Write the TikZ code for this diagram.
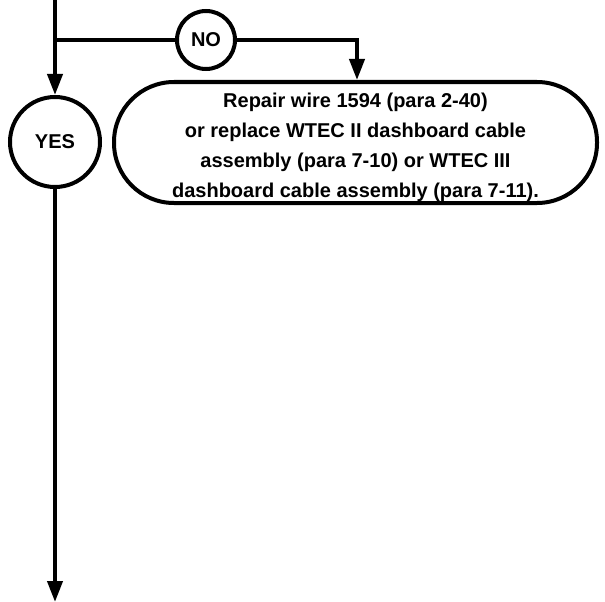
\documentclass[tikz,border=0pt]{standalone}
\usepackage{fontspec}
\setmainfont{Liberation Sans}
\usetikzlibrary{arrows.meta}
\begin{document}
\begin{tikzpicture}[x=1pt,y=-1pt,
  conn/.style={line width=4pt,-{Triangle[length=21pt,width=15pt]}},
  plain/.style={line width=4pt},
  answer/.style={circle,draw,line width=4pt,font=\bfseries\fontsize{20}{24}\selectfont,inner sep=0pt},
  actionbox/.style={draw,line width=4pt,rounded corners=60pt,minimum width=483pt,minimum height=121pt,inner sep=0pt}]
\useasboundingbox (0,0) rectangle (605,602);
\coordinate (top) at (55,0);
\coordinate (split) at (55,40);
\coordinate (bottom) at (55,602);
\node[answer,minimum size=58pt] (no) at (206,40) {NO};
\node[answer,minimum size=90pt] (yes) at (55,142) {YES};
\node[actionbox] (repair) at (355.5,142.5) {};
\node[font=\bfseries\fontsize{20}{30}\selectfont,align=center,anchor=base] (repairtext) at (355.5,197)
 {Repair wire 1594 (para 2-40)\\or replace WTEC II dashboard cable\\assembly (para 7-10) or WTEC III\\dashboard cable assembly (para 7-11).};
\coordinate (turn) at (357,40);
\draw[plain] (top) -- (split) -- (no.west);
\draw[conn] (split) -- (yes.north);
\draw[conn] (no.east) -- (turn) -- (turn |- repair.north);
\draw[conn] (yes.south) -- (bottom);
\end{tikzpicture}
\end{document}
